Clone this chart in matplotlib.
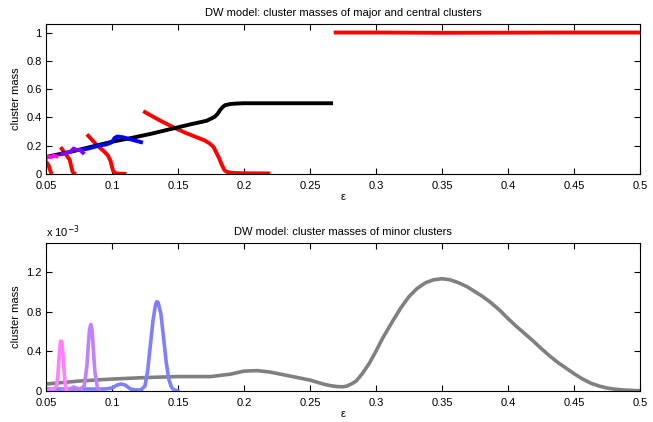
import matplotlib.pyplot as plt

plt.rcParams['font.family'] = ['Liberation Sans', 'DejaVu Sans']
plt.rcParams['font.size'] = 8

# ---- top panel: major and central clusters ----
red_top_x = [0.268, 0.30, 0.35, 0.40, 0.45, 0.50]
red_top_y = [1.0, 1.0, 0.998, 0.999, 1.0, 1.0]

black_x = [0.05, 0.07, 0.09, 0.10, 0.115, 0.13, 0.1465, 0.16, 0.1717, 0.1778,
           0.1800, 0.1818, 0.1838, 0.1856, 0.19, 0.1944, 0.20, 0.22, 0.25, 0.266]
black_y = [0.12, 0.16, 0.205, 0.228, 0.255, 0.285, 0.322, 0.352, 0.376, 0.404,
           0.425, 0.45, 0.472, 0.486, 0.495, 0.498, 0.50, 0.50, 0.50, 0.50]

red4_x = [0.1237, 0.135, 0.1465, 0.156, 0.164, 0.170, 0.174, 0.177, 0.179, 0.181,
          0.183, 0.1845, 0.1856, 0.188, 0.192, 0.20, 0.22]
red4_y = [0.444, 0.385, 0.33, 0.29, 0.26, 0.238, 0.216, 0.19, 0.152, 0.115,
          0.07, 0.04, 0.023, 0.012, 0.007, 0.005, 0.004]
red3_x = [0.081, 0.089, 0.094, 0.097, 0.099, 0.100, 0.101, 0.103, 0.111]
red3_y = [0.28, 0.20, 0.16, 0.13, 0.09, 0.05, 0.02, 0.004, 0.0]
red2_x = [0.061, 0.065, 0.068, 0.069, 0.070, 0.071, 0.073]
red2_y = [0.19, 0.14, 0.10, 0.06, 0.02, 0.003, 0.0]
red1_x = [0.050, 0.052, 0.053, 0.054, 0.055]
red1_y = [0.09, 0.06, 0.03, 0.005, 0.0]

blue_x = [0.076, 0.082, 0.090, 0.096, 0.100, 0.102, 0.104, 0.108, 0.114, 0.122]
blue_y = [0.17, 0.18, 0.20, 0.21, 0.225, 0.255, 0.265, 0.26, 0.245, 0.225]

purple_x = [0.062, 0.066, 0.069, 0.071, 0.073, 0.076, 0.078]
purple_y = [0.14, 0.15, 0.16, 0.18, 0.17, 0.17, 0.15]

magenta_x = [0.050, 0.052, 0.054, 0.056, 0.058]
magenta_y = [0.11, 0.125, 0.12, 0.13, 0.125]

# ---- bottom panel: minor clusters (units of 1e-3) ----
gray_x = [0.05, 0.075, 0.10, 0.125, 0.15, 0.175, 0.19, 0.20, 0.21, 0.22,
          0.235, 0.25, 0.26, 0.265, 0.27, 0.275, 0.278, 0.282, 0.285, 0.2875,
          0.29, 0.295, 0.30, 0.305, 0.3125, 0.319, 0.325, 0.331, 0.3375, 0.344,
          0.35, 0.356, 0.3625, 0.369, 0.375, 0.381, 0.3875, 0.394, 0.40, 0.406,
          0.4125, 0.419, 0.425, 0.431, 0.4375, 0.444, 0.45, 0.456, 0.4625, 0.469,
          0.475, 0.481, 0.4875, 0.494, 0.50]
gray_y = [0.07, 0.10, 0.12, 0.135, 0.145, 0.145, 0.17, 0.20, 0.205, 0.19,
          0.15, 0.11, 0.07, 0.055, 0.045, 0.042, 0.05, 0.075, 0.10, 0.14,
          0.18, 0.28, 0.40, 0.53, 0.70, 0.84, 0.95, 1.03, 1.09, 1.12,
          1.13, 1.12, 1.09, 1.05, 1.00, 0.95, 0.885, 0.81, 0.73, 0.655,
          0.58, 0.505, 0.43, 0.36, 0.29, 0.23, 0.175, 0.125, 0.08, 0.05,
          0.03, 0.018, 0.01, 0.006, 0.003]

lblue_x = [0.05, 0.06, 0.08, 0.095, 0.10, 0.104, 0.107, 0.110, 0.114, 0.118,
           0.122, 0.125, 0.127, 0.129, 0.131, 0.133, 0.134, 0.135, 0.137,
           0.139, 0.141, 0.143, 0.145, 0.147, 0.15]
lblue_y = [0.02, 0.02, 0.02, 0.02, 0.03, 0.06, 0.07, 0.06, 0.02, 0.01,
           0.01, 0.05, 0.20, 0.45, 0.70, 0.87, 0.90, 0.89, 0.78,
           0.55, 0.30, 0.12, 0.04, 0.01, 0.0]

lpurple_x = [0.062, 0.068, 0.071, 0.073, 0.076, 0.079, 0.081, 0.082, 0.083,
             0.084, 0.085, 0.086, 0.087, 0.089, 0.091]
lpurple_y = [0.01, 0.02, 0.04, 0.03, 0.02, 0.05, 0.25, 0.45, 0.62,
             0.67, 0.60, 0.40, 0.20, 0.03, 0.0]

lmagenta_x = [0.05, 0.056, 0.058, 0.059, 0.060, 0.061, 0.062, 0.063, 0.064,
              0.065, 0.066]
lmagenta_y = [0.0, 0.02, 0.05, 0.15, 0.35, 0.50, 0.50, 0.35, 0.15, 0.03, 0.0]

xticks = [0.05, 0.1, 0.15, 0.2, 0.25, 0.3, 0.35, 0.4, 0.45, 0.5]
xticklabels = ['0.05', '0.1', '0.15', '0.2', '0.25', '0.3', '0.35', '0.4', '0.45', '0.5']

fig = plt.figure(figsize=(6.53, 4.22), dpi=100)
ax1 = fig.add_axes([0.0704, 0.5877, 0.9096, 0.3554])
ax2 = fig.add_axes([0.0704, 0.0735, 0.9096, 0.3507])

lw = 2.8
for xs, ys in [(red1_x, red1_y), (red2_x, red2_y), (red3_x, red3_y),
               (red4_x, red4_y), (red_top_x, red_top_y)]:
    ax1.plot(xs, ys, color='#ff0000', lw=lw, solid_capstyle='butt')
ax1.plot(black_x, black_y, color='black', lw=lw)
ax1.plot(blue_x, blue_y, color='#0000ff', lw=lw)
ax1.plot(purple_x, purple_y, color='#8000ff', lw=lw)
ax1.plot(magenta_x, magenta_y, color='#ff00ff', lw=lw)
ax1.set_ylim(0, 1.06)
ax1.set_yticks([0, 0.2, 0.4, 0.6, 0.8, 1])
ax1.set_yticklabels(['0', '0.2', '0.4', '0.6', '0.8', '1'])
ax1.set_ylabel('cluster mass')
ax1.set_title('DW model: cluster masses of major and central clusters', fontsize=8, pad=6)

lw2 = 2.6
ax2.plot(gray_x, gray_y, color='#808080', lw=lw2)
ax2.plot(lblue_x, lblue_y, color='#8080ff', lw=lw2)
ax2.plot(lpurple_x, lpurple_y, color='#c080ff', lw=lw2)
ax2.plot(lmagenta_x, lmagenta_y, color='#ff80ff', lw=lw2)
ax2.set_ylim(0, 1.49)
ax2.set_yticks([0, 0.4, 0.8, 1.2])
ax2.set_yticklabels(['0', '0.4', '0.8', '1.2'])
ax2.set_ylabel('cluster mass')
ax2.set_title('DW model: cluster masses of minor clusters', fontsize=8, pad=6)
ax2.text(0.0, 1.02, r'x 10$^{-3}$', transform=ax2.transAxes, fontsize=8,
         ha='left', va='bottom')

for ax in (ax1, ax2):
    ax.set_xlim(0.05, 0.5)
    ax.set_xticks(xticks)
    ax.set_xticklabels(xticklabels)
    ax.set_xlabel('ε', labelpad=1)
    ax.tick_params(direction='in', top=True, right=True, length=4, width=0.8)
    ax.tick_params(axis='x', pad=5)
    ax.tick_params(axis='y', pad=3)
    for s in ax.spines.values():
        s.set_linewidth(0.8)

fig.savefig('out.png', dpi=100)
